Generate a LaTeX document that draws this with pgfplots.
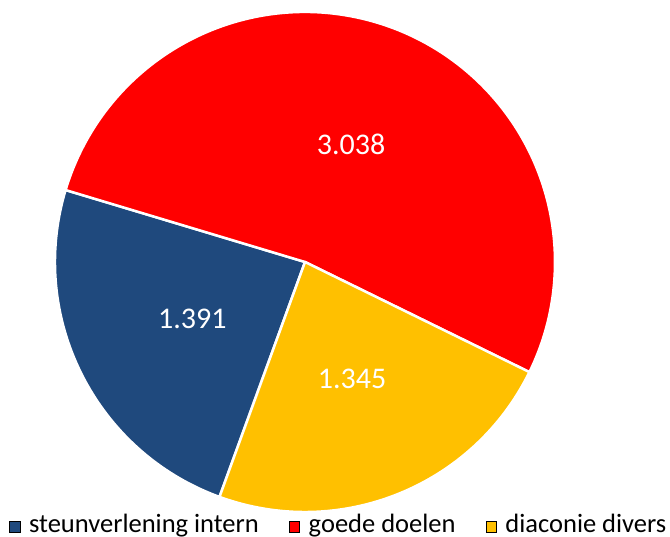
\documentclass[border=0pt]{standalone}
\usepackage{fontspec}
\setmainfont{Carlito}
\usepackage{pgfplots}
\usepackage{pgfplotstable}
\pgfplotsset{compat=1.18}
\definecolor{cblue}{RGB}{31,73,125}
\definecolor{cred}{RGB}{255,0,0}
\definecolor{cyellow}{RGB}{255,192,0}

\pgfplotstableread[col sep=comma]{
label,value,color
steunverlening intern,1391,cblue
goede doelen,3038,cred
diaconie divers,1345,cyellow
}\piedata

\def\cx{305}
\def\cy{275}
\def\R{250}
\def\startang{250}

\begin{document}
\begin{tikzpicture}
% totals and angles from the data
\def\total{0}
\pgfplotsforeachungrouped \i in {0,1,2}{%
  \pgfplotstablegetelem{\i}{value}\of\piedata
  \pgfmathsetmacro\total{\total+\pgfplotsretval}%
}
\def\cum{0}
\pgfplotsforeachungrouped \i in {0,1,2}{%
  \pgfplotstablegetelem{\i}{value}\of\piedata
  \let\val\pgfplotsretval
  \pgfmathsetmacro\a{\startang-\cum/\total*360}%
  \pgfmathsetmacro\cum{\cum+\val}%
  \pgfmathsetmacro\b{\startang-\cum/\total*360}%
  \pgfmathsetmacro\m{(\a+\b)/2}%
  \pgfmathsetmacro\lx{\cx+126*cos(\m)}%
  \pgfmathsetmacro\ly{\cy+126*sin(\m)}%
  \expandafter\xdef\csname sa\i\endcsname{\a}%
  \expandafter\xdef\csname sb\i\endcsname{\b}%
  \expandafter\xdef\csname lx\i\endcsname{\lx}%
  \expandafter\xdef\csname ly\i\endcsname{\ly}%
  \expandafter\xdef\csname va\i\endcsname{\val}%
}
\begin{axis}[
  name=ax,
  x=1pt, y=1pt,
  xmin=0, xmax=670, ymin=0, ymax=537,
  hide axis,
  clip=false,
  legend image code/.code={\fill[#1] (0pt,-7.5pt) rectangle (10.5pt,3pt);},
  legend columns=3,
  legend style={
    at={(axis cs:9,12.5)}, anchor=west,
    draw=none, fill=none, inner sep=0pt,
    font=\fontsize{26.5}{28}\selectfont,
    nodes={inner sep=0pt},
    /tikz/every odd column/.append style={column sep=9pt},
    /tikz/every even column/.append style={column sep=30pt},
  },
]
\pgfplotsforeachungrouped \i in {0,1,2}{%
  \pgfplotstablegetelem{\i}{color}\of\piedata
  \let\c\pgfplotsretval
  \edef\temp{\noexpand\fill[\c, draw=white, line width=2.5pt, line join=round]
    (axis cs:\cx,\cy) -- ++(\csname sa\i\endcsname:\R pt)
    arc[start angle=\csname sa\i\endcsname, end angle=\csname sb\i\endcsname, radius=\R pt] -- cycle;}%
  \temp
}
\pgfplotsforeachungrouped \i in {0,1,2}{%
  \edef\temp{\noexpand\node[text=white, font=\noexpand\fontsize{30}{32}\noexpand\selectfont]
    at (axis cs:\csname lx\i\endcsname,\csname ly\i\endcsname)
    {\noexpand\pgfmathprintnumber[1000 sep={.}, assume math mode=true]{\csname va\i\endcsname}};}%
  \temp
}
\addlegendimage{fill=cblue}
\addlegendimage{fill=cred}
\addlegendimage{fill=cyellow}
\legend{steunverlening intern, goede doelen, diaconie divers}
\end{axis}
\pgfresetboundingbox
\path (ax.south west) rectangle (ax.north east);
\end{tikzpicture}
\end{document}
